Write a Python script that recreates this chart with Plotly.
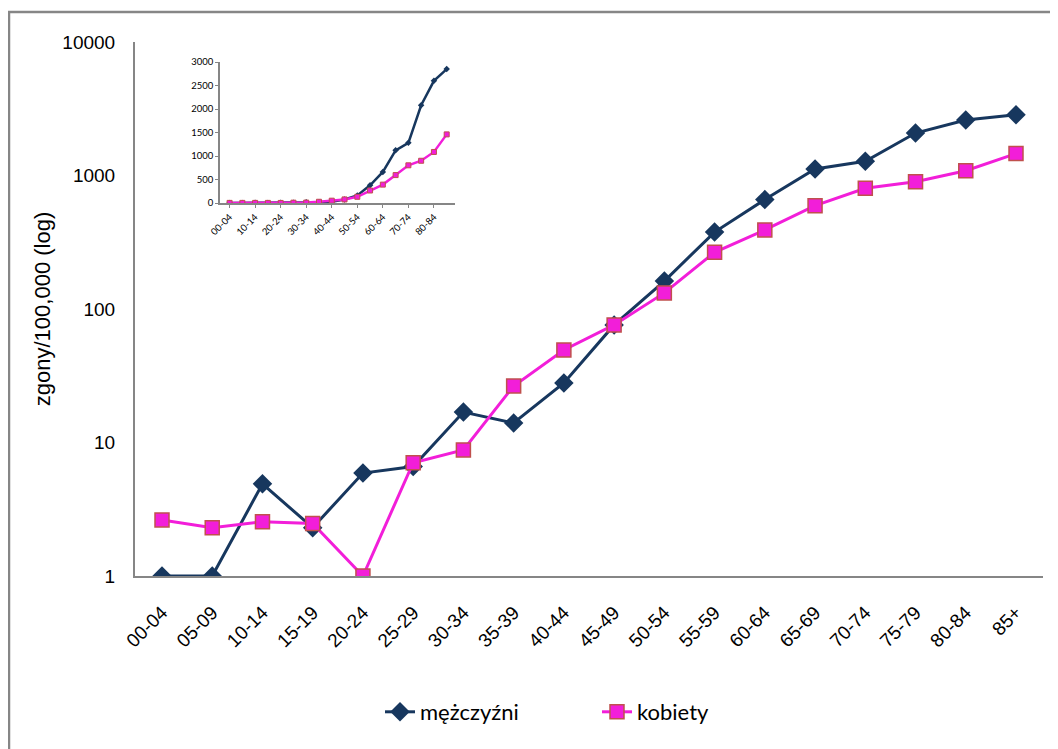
import plotly.graph_objects as go

categories = ["00-04", "05-09", "10-14", "15-19", "20-24", "25-29", "30-34", "35-39",
              "40-44", "45-49", "50-54", "55-59", "60-64", "65-69", "70-74", "75-79",
              "80-84", "85+"]
men = [1, 1, 4.9, 2.3, 5.9, 6.6, 16.9, 14.0, 27.9, 76, 162, 377, 660, 1120, 1280, 2080, 2600, 2850]
women = [2.63, 2.3, 2.55, 2.47, 1, 7.06, 8.8, 26.5, 49.3, 76, 132, 266, 391, 594, 802, 899, 1086, 1460]
y_ticks = [1, 10, 100, 1000, 10000]
inset_ticks = [0, 500, 1000, 1500, 2000, 2500, 3000]

MEN_C = "#17375E"
WOMEN_C = "#F21ED9"
WOMEN_EDGE = "#C0504D"
AX = "#868686"

OFF = 8  # page body margin
W, H = 1058 - OFF, 749 - OFF
L, R, T, B = 135, 1043, 42, 576  # page pixel coords of plot area
pw, ph = R - L, B - T

def px(xp):
    return (xp - L) / pw

def py(yp):
    return (B - yp) / ph

idx = list(range(len(categories)))

fig = go.Figure()
fig.add_trace(go.Scatter(x=idx, y=men, name="mężczyźni", mode="lines+markers",
                         line=dict(color=MEN_C, width=3),
                         marker=dict(symbol="diamond", size=15, color=MEN_C)))
fig.add_trace(go.Scatter(x=idx, y=women, name="kobiety", mode="lines+markers",
                         line=dict(color=WOMEN_C, width=3),
                         marker=dict(symbol="square", size=14, color=WOMEN_C,
                                     line=dict(color=WOMEN_EDGE, width=1.5))))
# inset
fig.add_trace(go.Scatter(x=idx, y=men, mode="lines+markers", showlegend=False,
                         xaxis="x2", yaxis="y2",
                         line=dict(color=MEN_C, width=2.5),
                         marker=dict(symbol="diamond", size=5, color=MEN_C)))
fig.add_trace(go.Scatter(x=idx, y=women, mode="lines+markers", showlegend=False,
                         xaxis="x2", yaxis="y2",
                         line=dict(color=WOMEN_C, width=2.5),
                         marker=dict(symbol="square", size=5, color=WOMEN_C,
                                     line=dict(color=WOMEN_EDGE, width=1))))

sp = 50.24
fig.update_layout(
    width=W, height=H,
    margin=dict(l=L - OFF, r=W - (R - OFF), t=T - OFF, b=H - (B - OFF)),
    paper_bgcolor="white", plot_bgcolor="white",
    font=dict(family="Arial", color="black"),
    xaxis=dict(range=[-(162 - L) / sp, 17 + (R - 1016) / sp],
               tickvals=idx, ticktext=categories, tickangle=-45,
               tickfont=dict(size=19), showgrid=False, zeroline=False,
               showline=True, linecolor=AX, linewidth=2, ticks="",
               ticklabelstandoff=16),
    yaxis=dict(type="log", range=[0, 4], tickvals=y_ticks,
               ticktext=[str(v) for v in y_ticks], tickfont=dict(size=19),
               showgrid=False, zeroline=False, showline=True, linecolor=AX,
               linewidth=2, ticks="", ticklabelstandoff=14,
               title=dict(text="zgony/100,000 (log)", font=dict(size=22), standoff=6)),
    xaxis2=dict(domain=[px(220), px(455)], anchor="y2",
                range=[-0.75, 17.65], tickvals=idx[::2], ticktext=categories[::2],
                tickangle=-45, tickfont=dict(size=9.5, family="Lato"),
                showgrid=False, zeroline=False, showline=True, linecolor=AX,
                linewidth=1.5, ticks="outside", ticklen=3, tickcolor=AX),
    yaxis2=dict(domain=[py(203), py(62)], anchor="x2", range=[0, 3000],
                tickvals=inset_ticks, tickfont=dict(size=9.5, family="Lato"),
                showgrid=False, zeroline=False, showline=True, linecolor=AX,
                linewidth=1.5, ticks="outside", ticklen=3, tickcolor=AX),
    legend=dict(orientation="h", x=px(380), xanchor="left", y=py(712),
                yanchor="middle", font=dict(size=22, family="Lato"),
                entrywidth=172, bgcolor="rgba(0,0,0,0)", tracegroupgap=0),
    shapes=[dict(type="rect", xref="paper", yref="paper",
                 x0=px(9), x1=px(1075), y0=py(12), y1=py(770),
                 line=dict(color=AX, width=2.5), layer="below")],
)

fig.write_html("out.html")
